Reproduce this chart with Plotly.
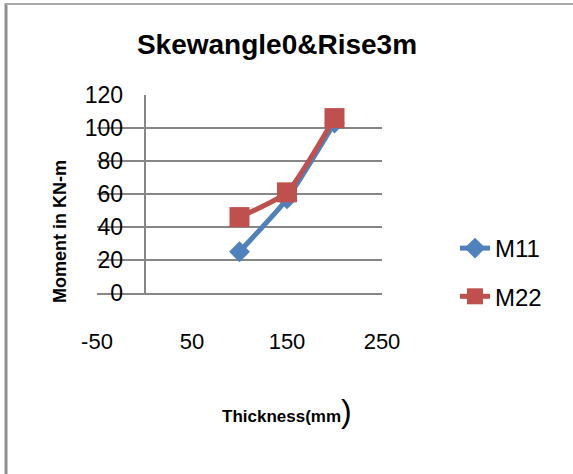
import plotly.graph_objects as go

# Slab thickness (mm) and bending moments (KN-m)
thickness = [100, 150, 200]
m11 = [25, 57, 103]
m22 = [46, 61, 106]

x_ticks = [-50, 50, 150, 250]
y_ticks = [0, 20, 40, 60, 80, 100, 120]

BLUE = "#4F81BD"
RED = "#C0504D"
GRID = "#868686"
FONT = "Liberation Sans, Arial, sans-serif"

W, H = 573, 474
L, R, T, B = 97, 191, 95, 181


def px_x(p):
    return (p - L) / (W - L - R)


def px_y(p):
    return (H - B - p) / (H - T - B)


fig = go.Figure()
fig.add_trace(go.Scatter(
    x=thickness, y=m11, name="M11", mode="lines+markers",
    line=dict(color=BLUE, width=5, shape="spline", smoothing=0.5),
    marker=dict(symbol="diamond", size=16, color=BLUE),
    legendgroup="a",
))
fig.add_trace(go.Scatter(
    x=thickness, y=m22, name="M22", mode="lines+markers",
    line=dict(color=RED, width=5, shape="spline", smoothing=0.5),
    marker=dict(symbol="square", size=20, color=RED),
    legendgroup="b",
))

fig.update_layout(
    width=W, height=H,
    margin=dict(l=L, r=R, t=T, b=B),
    paper_bgcolor="white", plot_bgcolor="white",
    font=dict(family=FONT, color="black"),
    title=dict(
        text="Skewangle0&Rise3m",
        font=dict(size=28, weight="bold", color="black"),
        x=277 / W, xref="container", xanchor="center",
        y=1 - 44 / H, yref="container", yanchor="middle",
    ),
    showlegend=True,
    legend=dict(
        x=px_x(455), y=px_y(226), xanchor="left", yanchor="top",
        font=dict(size=24), tracegroupgap=14,
        bgcolor="rgba(0,0,0,0)",
    ),
    xaxis=dict(
        range=[-50, 250], tickvals=x_ticks, ticktext=[str(v) for v in x_ticks],
        showgrid=False, zeroline=True, zerolinecolor=GRID, zerolinewidth=2,
        showline=True, linecolor=GRID, linewidth=2,
        ticks="", tickfont=dict(size=22), ticklabelstandoff=28,
    ),
    # grid-only value axis
    yaxis=dict(
        range=[0, 120], tickvals=y_ticks,
        showgrid=True, gridcolor=GRID, gridwidth=2,
        zeroline=False, showline=False, ticks="", showticklabels=False,
    ),
    # label-only copy of the value axis, labels pulled over the grid
    yaxis2=dict(
        overlaying="y", matches="y", side="left", anchor="x",
        range=[0, 120], tickvals=y_ticks,
        showgrid=False, zeroline=False, showline=False, ticks="",
        tickfont=dict(size=23), ticklabelstandoff=-27,
    ),
    annotations=[
        dict(text="<b>Moment in KN-m</b>", textangle=-90,
             xref="paper", yref="paper", x=px_x(60), y=px_y(232),
             xanchor="center", yanchor="middle", showarrow=False,
             font=dict(size=18)),
        dict(text="<b>Thickness(mm</b><span style='font-size:32px'>)</span>",
             xref="paper", yref="paper", x=px_x(287), y=px_y(411),
             xanchor="center", yanchor="middle", showarrow=False,
             font=dict(size=17)),
    ],
    shapes=[
        dict(type="line", xref="paper", yref="paper",
             x0=px_x(6), x1=px_x(6), y0=px_y(H + 5), y1=px_y(3),
             line=dict(color="#8f8f8f", width=3)),
        dict(type="line", xref="paper", yref="paper",
             x0=px_x(5), x1=px_x(W + 5), y0=px_y(4), y1=px_y(4),
             line=dict(color="#a8a8a8", width=2)),
    ],
)

# invisible trace so the label axis is drawn
fig.add_trace(go.Scatter(x=[None], y=[None], yaxis="y2", showlegend=False,
                         hoverinfo="skip"))

fig.write_html("out.html")
